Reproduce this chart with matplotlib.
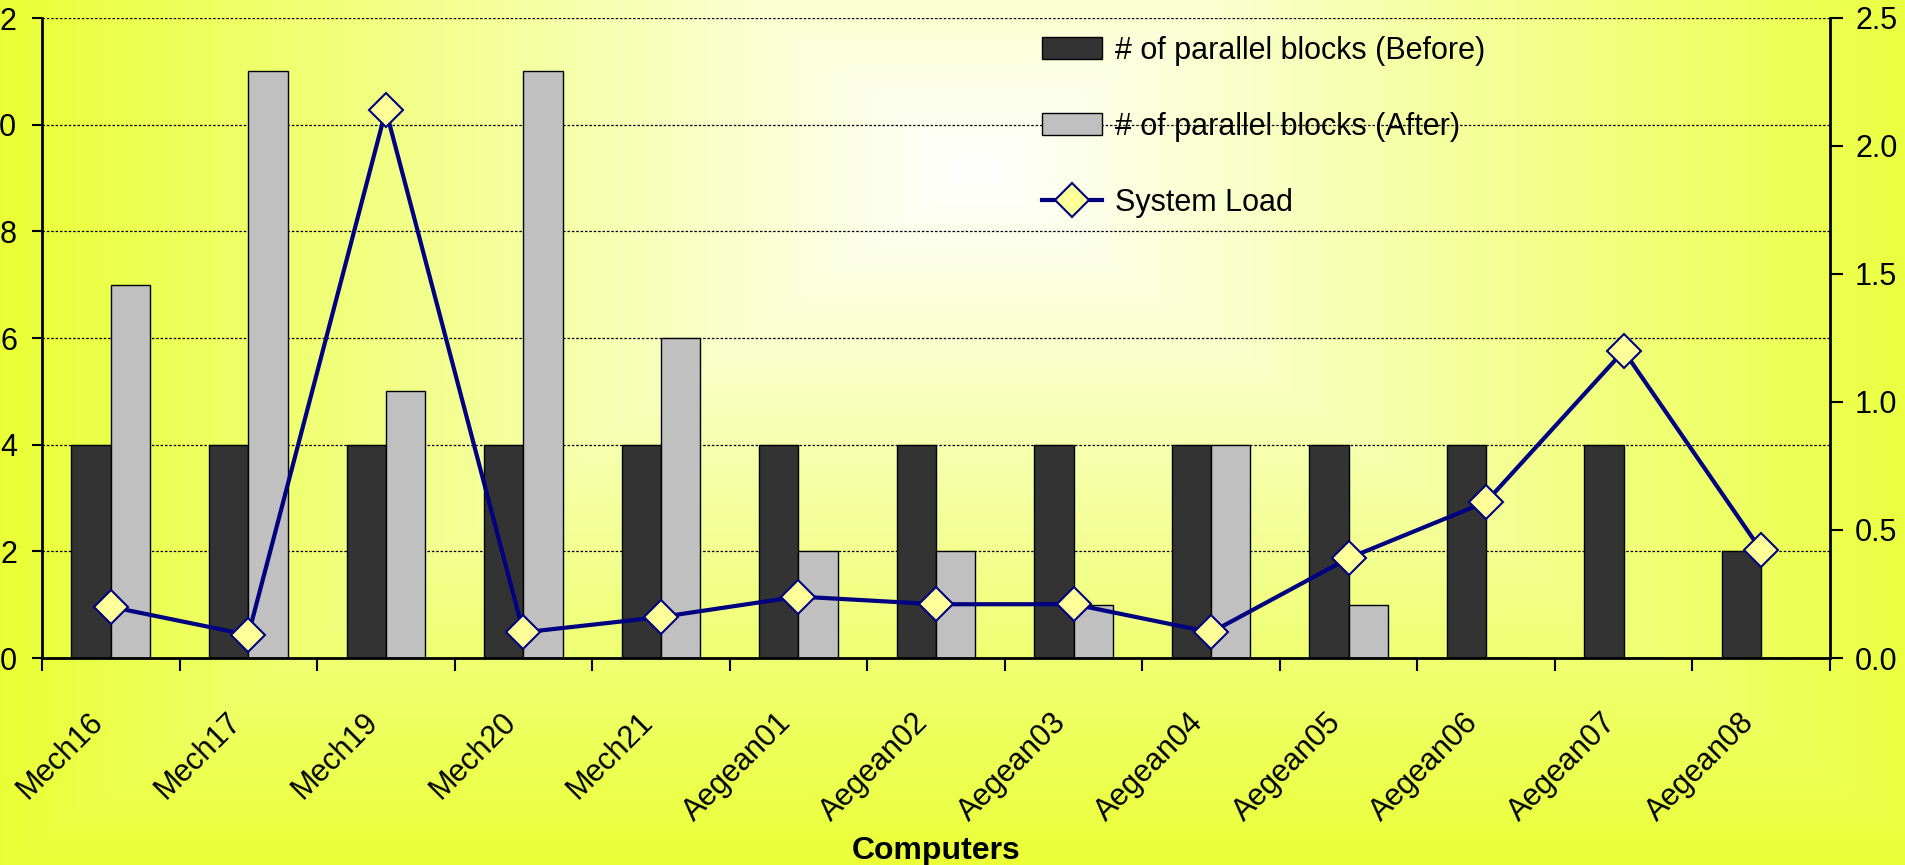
import numpy as np
import matplotlib
matplotlib.use("Agg")
import matplotlib.pyplot as plt
from matplotlib.transforms import ScaledTranslation

plt.rcParams['font.family'] = ['Liberation Sans', 'DejaVu Sans']

# data
computers = ["Mech16", "Mech17", "Mech19", "Mech20", "Mech21", "Aegean01", "Aegean02",
             "Aegean03", "Aegean04", "Aegean05", "Aegean06", "Aegean07", "Aegean08"]
blocks_before = [4, 4, 4, 4, 4, 4, 4, 4, 4, 4, 4, 4, 2]
blocks_after = [7, 11, 5, 11, 6, 2, 2, 1, 4, 1, 0, 0, 0]
system_load = [0.20, 0.09, 2.14, 0.10, 0.16, 0.24, 0.21, 0.21, 0.10, 0.39, 0.61, 1.20, 0.42]
left_ticks = [0, 2, 4, 6, 8, 10, 12]
right_ticks = [0.0, 0.5, 1.0, 1.5, 2.0, 2.5]

W, H = 1905, 865
fig = plt.figure(figsize=(W / 100, H / 100), dpi=100)

# background gradient (white centre -> yellow edges)
bg = fig.add_axes([0, 0, 1, 1], zorder=-10)
yy, xx = np.mgrid[0:H, 0:W]
t = np.maximum(np.abs(xx - 980) / 980.0, np.abs(yy - 170) / 700.0)
t = np.clip(t, 0, 1)
white = np.array([1.0, 1.0, 1.0])
yellow = np.array([233, 255, 53]) / 255.0
img = white[None, None, :] * (1 - t[..., None]) + yellow[None, None, :] * t[..., None]
bg.imshow(img, aspect='auto', extent=[0, W, H, 0])
bg.axis('off')

ax = fig.add_axes([42 / W, 1 - 658 / H, (1830 - 42) / W, (658 - 18) / H])
ax.patch.set_visible(False)
x = np.arange(len(computers))
bw = 1 / 3.5
b1 = ax.bar(x - bw / 2, blocks_before, bw, color='#333333', edgecolor='black', linewidth=1,
            label='# of parallel blocks (Before)')
b2 = ax.bar(x + bw / 2, blocks_after, bw, color='#C0C0C0', edgecolor='black', linewidth=1,
            label='# of parallel blocks (After)')
ax.set_xlim(-0.5, len(computers) - 0.5)
ax.set_ylim(0, 12)
ax.set_yticks(left_ticks)
ax.yaxis.grid(True, color='black', linestyle=(0, (2, 1.5)), linewidth=0.9)
ax.set_axisbelow(True)
for s in ['top', 'right']:
    ax.spines[s].set_visible(False)
ax.spines['left'].set_linewidth(2)
ax.spines['bottom'].set_linewidth(2)
ax.tick_params(axis='y', direction='out', length=7.5, width=1.5, pad=10.5, labelsize=22)

ax.set_xticks(x)
ax.set_xticklabels(computers, rotation=45, ha='right', va='center', rotation_mode='anchor')
ax.set_xticks(np.arange(-0.5, len(computers), 1), minor=True)
ax.tick_params(axis='x', which='major', length=0, pad=43, labelsize=22)
ax.tick_params(axis='x', which='minor', direction='out', length=9, width=1.5)
shift = ScaledTranslation(-12 / 100, 0, fig.dpi_scale_trans)
for lab in ax.get_xticklabels():
    lab.set_transform(lab.get_transform() + shift)
ax.set_xlabel('Computers', fontsize=23, fontweight='bold', va='center')
ax.xaxis.set_label_coords(0.5, -0.301)

ax2 = ax.twinx()
ln, = ax2.plot(x, system_load, color='#000080', linewidth=3, marker='D', markersize=17,
               markerfacecolor='#FFFF99', markeredgecolor='#000080', markeredgewidth=1.5,
               label='System Load')
ax2.set_ylim(0, 2.5)
ax2.set_yticks(right_ticks)
ax2.set_yticklabels(['%.1f' % v for v in right_ticks])
for s in ['top', 'left', 'bottom']:
    ax2.spines[s].set_visible(False)
ax2.spines['right'].set_linewidth(2)
ax2.tick_params(axis='y', direction='out', length=9, width=1.5, pad=9, labelsize=22)

fig.legend([b1, b2, ln], [b1.get_label(), b2.get_label(), ln.get_label()],
           loc='upper left', bbox_to_anchor=(1042 / W, 1 - 36 / H), frameon=False,
           fontsize=22, borderpad=0, borderaxespad=0, labelspacing=1.5,
           handlelength=1.96, handleheight=0.72, handletextpad=0.43)

fig.savefig('out.png', dpi=100)
